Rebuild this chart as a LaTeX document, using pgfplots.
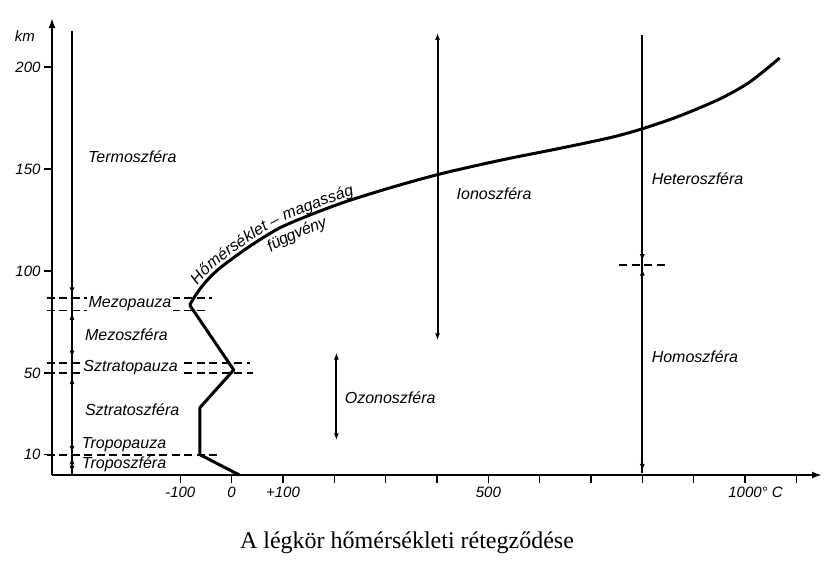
\documentclass[border=0pt]{standalone}
\usepackage{pgfplots}
\pgfplotsset{compat=1.18}
\usepackage{fontspec}
\setmainfont{Liberation Serif}
\newfontfamily\labfont{Liberation Sans}
\usetikzlibrary{arrows.meta,decorations.text}
\newcommand\lf{\labfont\itshape\fontsize{16}{18}\selectfont}
\newcommand\tf{\labfont\itshape\fontsize{15}{17}\selectfont}
\tikzset{
  vline/.style={line width=2pt, black},
  tip/.style={line width=2pt, black, -{Latex[length=7pt,width=5pt]}},
  dsh/.style={line width=1.8pt, black, dash pattern=on 8pt off 4.5pt},
  lab/.style={anchor=west, inner sep=0pt, font=\lf},
}
\begin{document}
\begin{tikzpicture}
\useasboundingbox (-52pt,-91pt) rectangle (775pt,475pt);
\begin{axis}[
  at={(0pt,0pt)}, anchor=south west,
  scale only axis, width=770pt, height=457pt,
  xmin=-350, xmax=1150, ymin=0, ymax=224,
  axis lines=left,
  axis line style={line width=2pt, -{Latex[length=10pt,width=7pt]}},
  clip=false,
  tick align=outside,
  major tick length=8pt,
  tick style={line width=1.6pt, black},
  xtick={-100,0,100,200,300,400,500,600,700,800,900,1000,1100},
  xticklabels={-100,0,+100,{},{},{},500,{},{},{},{},1000\rlap{° C},{}},
  ytick={10,50,100,150,200},
  yticklabels={10,50,100,150,200},
  ticklabel style={font=\tf},
  /pgf/number format/assume math mode=true,
]
% temperature profile
\addplot[line width=3pt, line join=round] coordinates {(15,0) (-62,10) (-62,33) (4,51.5) (-81.8,83.3)};
\addplot[line width=3pt, smooth, tension=0.5] coordinates {
  (-81.8,83.3) (-70.1,88.2) (-52.6,94.1) (-27.3,100.5) (5.8,106.9) (44.8,113.7)
  (93.5,121.1) (152,127.4) (220.1,133.8) (307.8,140.7) (405.2,147.5) (522.1,154.2)
  (639,160.1) (736.4,165.3) (798.7,169.6) (872.7,176) (950.6,184.3) (1009.1,192.6)
  (1067.5,204.4)};
% curve label
\addplot[draw=none, smooth, tension=0.5, postaction={decorate},
  decoration={text along path, text={|\lf|Hőmérséklet – magasság}, raise=4pt}]
  coordinates {(-60,91.5) (-52.6,94.1) (-27.3,100.5) (5.8,106.9) (44.8,113.7)
  (93.5,121.1) (152,127.4) (220.1,133.8) (307.8,140.7) (405.2,147.5)};
\addplot[draw=none, smooth, tension=0.5, postaction={decorate},
  decoration={text along path, text={|\lf|függvény}, raise=-17pt}]
  coordinates {(60,116.5) (93.5,121.1) (152,127.4) (220.1,133.8) (307.8,140.7) (405.2,147.5)};
% dashed boundaries
\addplot[dsh] coordinates {(-360,86.8) (-39,86.8)};
\addplot[dsh] coordinates {(-360,80.6) (-49,80.6)};
\addplot[dsh] coordinates {(-360,55) (35,55)};
\addplot[dsh] coordinates {(-360,50) (41,50)};
\addplot[dsh] coordinates {(-360,10) (-23,10)};
\addplot[dsh] coordinates {(755,103) (852,103)};
% left layer line
\addplot[vline] coordinates {(-311,0) (-311,217.6)};
\addplot[tip] coordinates {(-311,96) (-311,88.5)};
\addplot[tip] coordinates {(-311,73) (-311,79.5)};
\addplot[tip] coordinates {(-311,64) (-311,57.5)};
\addplot[tip] coordinates {(-311,41) (-311,48)};
\addplot[tip] coordinates {(-311,17) (-311,10.8)};
\addplot[tip] coordinates {(-311,4) (-311,8.7)};
\addplot[tip] coordinates {(-311,5) (-311,1)};
% ionosphere
\addplot[vline, {Latex[length=7pt,width=5pt]}-{Latex[length=7pt,width=5pt]}] coordinates {(401,66) (401,216.7)};
% ozonosphere
\addplot[vline, {Latex[length=7pt,width=5pt]}-{Latex[length=7pt,width=5pt]}] coordinates {(204,17) (204,60)};
% hetero/homosphere
\addplot[vline] coordinates {(800,1) (800,215.7)};
\addplot[tip] coordinates {(800,111) (800,104.8)};
\addplot[tip] coordinates {(800,95) (800,101.2)};
\addplot[tip] coordinates {(800,9) (800,2)};
% labels
\node[lab] at (axis cs:-280,156) {Termoszféra};
\node[lab, fill=white, inner xsep=2pt] at (axis cs:-283,83.8) {Mezopauza};
\node[lab] at (axis cs:-286,69) {Mezoszféra};
\node[lab, fill=white, inner xsep=2pt] at (axis cs:-293,52.5) {Sztratopauza};
\node[lab] at (axis cs:-286,32) {Sztratoszféra};
\node[lab] at (axis cs:-292,14.7) {Tropopauza};
\node[lab] at (axis cs:-292,5.5) {Troposzféra};
\node[lab] at (axis cs:438,138) {Ionoszféra};
\node[lab] at (axis cs:818,145) {Heteroszféra};
\node[lab] at (axis cs:818,58) {Homoszféra};
\node[lab] at (axis cs:220,38) {Ozonoszféra};
\node[anchor=east, inner sep=0pt, font=\tf] at (axis cs:-350,215) [xshift=-17pt] {km};
\end{axis}
\node[font=\fontsize{24}{28}\selectfont] at (355pt,-68pt) {A légkör hőmérsékleti rétegződése};
\end{tikzpicture}
\end{document}
